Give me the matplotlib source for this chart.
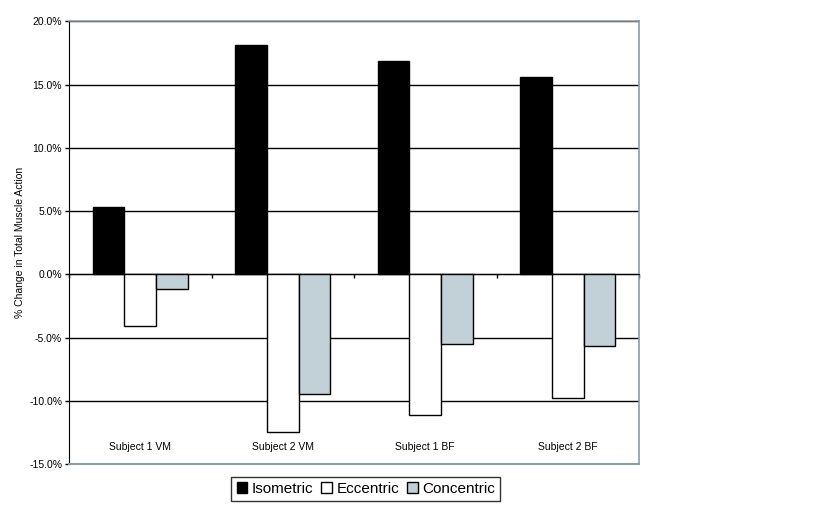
import numpy as np
import matplotlib
matplotlib.use('Agg')
import matplotlib.pyplot as plt
from matplotlib.ticker import FuncFormatter

plt.rcParams['font.family'] = ['Liberation Sans', 'DejaVu Sans']

subjects = ['Subject 1 VM', 'Subject 2 VM', 'Subject 1 BF', 'Subject 2 BF']
isometric = [5.3, 18.1, 16.9, 15.6]
eccentric = [-4.05, -12.5, -11.15, -9.75]
concentric = [-1.13, -9.45, -5.5, -5.7]

fig = plt.figure(figsize=(8.15, 5.15), dpi=100)
ax = fig.add_axes([0.0847, 0.099, 0.6994, 0.8596])

x = np.arange(len(subjects))
w = 1 / 4.5
ax.bar(x - w, isometric, w, color='black', edgecolor='black', lw=1, label='Isometric', zorder=3)
ax.bar(x, eccentric, w, color='white', edgecolor='black', lw=1, label='Eccentric', zorder=3)
ax.bar(x + w, concentric, w, color='#c2d0d8', edgecolor='black', lw=1, label='Concentric', zorder=3)

ax.set_xlim(-0.5, len(subjects) - 0.5)
ax.set_ylim(-15, 20)
ax.set_yticks(np.arange(-15, 20.1, 5))
ax.yaxis.set_major_formatter(FuncFormatter(lambda v, p: f'{v:.1f}%'))
ax.yaxis.grid(True, color='black', lw=1)
ax.set_axisbelow(True)
ax.tick_params(axis='y', labelsize=7.5, length=3, width=1, pad=2)

# category axis sits at 0, labels near the bottom of the plot area
ax.set_xticks(np.arange(-0.5, len(subjects), 1))
ax.set_xticklabels([])
ax.tick_params(axis='x', length=3, width=1, direction='out')
ax.spines['bottom'].set_position(('data', 0))
ax.spines['bottom'].set_color('black')
for i, s in enumerate(subjects):
    ax.text(i, -13.65, s, ha='center', va='center', fontsize=7.5)
ax.axhline(-15, color='#8c9ca4', lw=1.5, zorder=4, clip_on=False)

ax.spines['left'].set_color('black')
for side in ['top', 'right']:
    ax.spines[side].set_color('#8c9ca4')
    ax.spines[side].set_linewidth(1.2)

ax.set_ylabel('% Change in Total Muscle Action', fontsize=7.5, labelpad=3)

leg = fig.legend(loc='center', bbox_to_anchor=(0.449, 0.0505), ncol=3, fontsize=11,
                 frameon=True, fancybox=False, edgecolor='black', handlelength=0.7,
                 handleheight=0.7, handletextpad=0.3, columnspacing=0.5, borderpad=0.35)
leg.get_frame().set_linewidth(1)

fig.savefig('out.png', dpi=100)
